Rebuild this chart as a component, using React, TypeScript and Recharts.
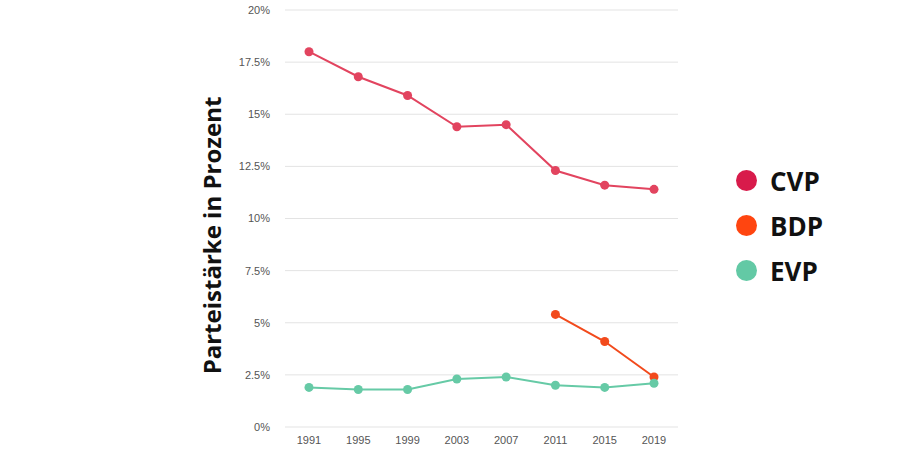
import { ComposedChart, Line, XAxis, YAxis, CartesianGrid, Label } from 'recharts';

const YEARS = ['1991', '1995', '1999', '2003', '2007', '2011', '2015', '2019'];
const CVP = [18.0, 16.8, 15.9, 14.4, 14.5, 12.3, 11.6, 11.4];
const BDP = [null, null, null, null, null, 5.4, 4.1, 2.4];
const EVP = [1.9, 1.8, 1.8, 2.3, 2.4, 2.0, 1.9, 2.1];
const Y_TICKS = [0, 2.5, 5, 7.5, 10, 12.5, 15, 17.5, 20];

const SERIES = [
  { key: 'CVP', line: '#e2445f', dot: '#d81b4b' },
  { key: 'BDP', line: '#f24a1c', dot: '#ff4510' },
  { key: 'EVP', line: '#66caa6', dot: '#63c9a5' },
];

const data = YEARS.map((year, i) => ({ year, CVP: CVP[i], BDP: BDP[i], EVP: EVP[i] }));

const fmtPct = (v: number) => `${v}%`;

// legend sits outside the svg, right of the plot
function LegendBox() {
  return (
    <div style={{ position: 'absolute', left: 736, top: 166, display: 'flex', flexDirection: 'column', gap: 16 }}>
      {SERIES.map(s => (
        <div key={s.key} style={{ display: 'flex', alignItems: 'center', height: 29 }}>
          <span style={{ width: 21, height: 21, borderRadius: '50%', background: s.dot, display: 'inline-block' }} />
          <span style={{ marginLeft: 13, fontFamily: '"Open Sans", sans-serif', fontWeight: 700, fontSize: 26, color: '#111' }}>
            {s.key}
          </span>
        </div>
      ))}
    </div>
  );
}

function AxisTitle({ viewBox }: any) {
  const cx = 211;
  const cy = viewBox.y + viewBox.height / 2 + 17;
  return (
    <text
      x={cx}
      y={cy}
      transform={`rotate(-90 ${cx} ${cy})`}
      textAnchor="middle"
      dominantBaseline="central"
      style={{ fontFamily: '"Open Sans", sans-serif', fontWeight: 700, fontSize: 24, fill: '#111' }}
    >
      Parteistärke in Prozent
    </text>
  );
}

export default function App() {
  return (
    <div style={{ position: 'absolute', left: 0, top: 0, width: 900, height: 450, background: '#fff' }}>
      <ComposedChart width={900} height={450} data={data} margin={{ top: 10, right: 222, bottom: 3, left: 185 }}>
        <CartesianGrid vertical={false} stroke="#e3e3e3" />
        <XAxis
          dataKey="year"
          height={20}
          padding={{ left: 24, right: 24 }}
          axisLine={false}
          tickLine={false}
          tickMargin={3}
          tick={{ fill: '#555', fontSize: 11, fontFamily: '"Liberation Sans", Arial, sans-serif' }}
        />
        <YAxis
          width={100}
          domain={[0, 20]}
          ticks={Y_TICKS}
          tickFormatter={fmtPct}
          axisLine={false}
          tickLine={false}
          tickMargin={9}
          tick={{ fill: '#555', fontSize: 11, fontFamily: '"Liberation Sans", Arial, sans-serif' }}
        >
          <Label content={AxisTitle} />
        </YAxis>
        {SERIES.map(s => (
          <Line
            key={s.key}
            dataKey={s.key}
            stroke={s.line}
            strokeWidth={2}
            dot={{ r: 4.5, fill: s.line, stroke: s.line, strokeWidth: 0 }}
            activeDot={false}
            connectNulls={false}
            isAnimationActive={false}
          />
        ))}
      </ComposedChart>
      <LegendBox />
    </div>
  );
}
